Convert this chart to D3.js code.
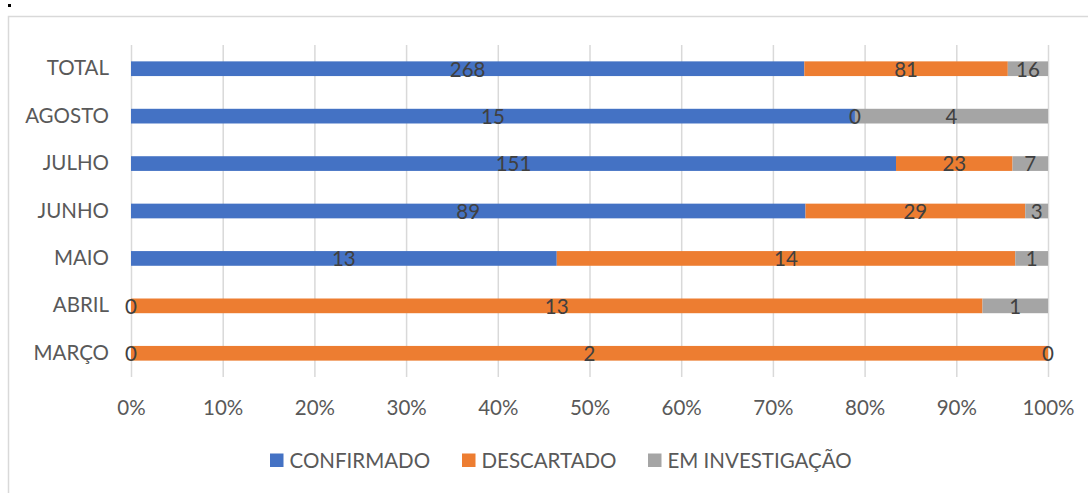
<!DOCTYPE html>
<html>
<head>
<meta charset="utf-8">
<script src="https://cdn.jsdelivr.net/npm/d3@7"></script>
<style>
  body { margin: 0; background: #fff; }
  svg { display: block; font-family: Lato, "Open Sans", sans-serif; }
</style>
</head>
<body>
<div id="chart"></div>
<script>
const categories = ["TOTAL", "AGOSTO", "JULHO", "JUNHO", "MAIO", "ABRIL", "MARÇO"];
const seriesNames = ["CONFIRMADO", "DESCARTADO", "EM INVESTIGAÇÃO"];
const confirmado = [268, 15, 151, 89, 13, 0, 0];
const descartado = [81, 0, 23, 29, 14, 13, 2];
const emInvestigacao = [16, 4, 7, 3, 1, 1, 0];
const tickValues = [0, 0.1, 0.2, 0.3, 0.4, 0.5, 0.6, 0.7, 0.8, 0.9, 1];
const colors = ["#4472C4", "#ED7D31", "#A5A5A5"];

const width = 1088, height = 493;
const plot = { left: 131, right: 1048, top: 45, bottom: 377 };
const fontSize = "20.5px";

const rows = categories.map((c, i) => {
    const vals = [confirmado[i], descartado[i], emInvestigacao[i]];
    const total = d3.sum(vals);
    let acc = 0;
    return {
        category: c,
        segments: vals.map((v, k) => {
            const s = { key: k, value: v, x0: acc / total, x1: (acc + v) / total };
            acc += v;
            return s;
        })
    };
});

const svg = d3.select("#chart").append("svg")
    .attr("width", width)
    .attr("height", height);

// chart frame
svg.append("rect")
    .attr("x", 8.5).attr("y", 16.5)
    .attr("width", 1100).attr("height", 500)
    .attr("fill", "none")
    .attr("stroke", "#d9d9d9")
    .attr("stroke-width", 1.5);

svg.append("rect")
    .attr("x", 8).attr("y", 4)
    .attr("width", 3).attr("height", 3)
    .attr("fill", "#000");

const x = d3.scaleLinear().domain([0, 1]).range([plot.left, plot.right]);
const y = d3.scaleBand().domain(categories).range([plot.top, plot.bottom]).paddingInner(0.69).paddingOuter(0.345);

// gridlines
svg.append("g")
    .selectAll("line")
    .data(tickValues)
    .join("line")
    .attr("x1", d => x(d) + 0.5).attr("x2", d => x(d) + 0.5)
    .attr("y1", plot.top).attr("y2", plot.bottom)
    .attr("stroke", "#d9d9d9")
    .attr("stroke-width", 1.5);

// x axis labels
const xAxis = d3.axisBottom(x)
    .tickValues(tickValues)
    .tickFormat(d3.format(".0%"))
    .tickSize(0)
    .tickPadding(0);

svg.append("g")
    .attr("transform", "translate(0," + 400 + ")")
    .call(xAxis)
    .call(g => g.select(".domain").remove())
    .selectAll("text")
    .attr("fill", "#595959")
    .style("font-size", fontSize)
    .style("font-family", "Lato, sans-serif");

// y axis labels
const yAxis = d3.axisLeft(y).tickSize(0).tickPadding(22);
svg.append("g")
    .attr("transform", "translate(" + plot.left + ",0)")
    .call(yAxis)
    .call(g => g.select(".domain").remove())
    .selectAll("text")
    .attr("fill", "#595959")
    .style("font-size", fontSize)
    .style("font-family", "Lato, sans-serif");

// bars
const rowG = svg.append("g")
    .selectAll("g")
    .data(rows)
    .join("g")
    .attr("transform", d => "translate(0," + y(d.category) + ")");

rowG.selectAll("rect")
    .data(d => d.segments)
    .join("rect")
    .attr("x", d => x(d.x0))
    .attr("width", d => x(d.x1) - x(d.x0))
    .attr("y", 0)
    .attr("height", y.bandwidth())
    .attr("fill", d => colors[d.key]);

rowG.selectAll("text")
    .data(d => d.segments)
    .join("text")
    .attr("x", d => (x(d.x0) + x(d.x1)) / 2)
    .attr("y", y.bandwidth() / 2 + 0.5)
    .attr("dy", "0.36em")
    .attr("text-anchor", "middle")
    .attr("fill", "#404040")
    .style("font-size", fontSize)
    .text(d => d.value);

// legend
const legendX = [270, 462, 648];
const legend = svg.append("g")
    .selectAll("g")
    .data(seriesNames)
    .join("g")
    .attr("transform", (d, i) => "translate(" + legendX[i] + "," + 453.5 + ")");

legend.append("rect")
    .attr("width", 13.5).attr("height", 13.5)
    .attr("fill", (d, i) => colors[i]);

legend.append("text")
    .attr("x", 19.5).attr("y", 7)
    .attr("dy", "0.36em")
    .attr("fill", "#595959")
    .style("font-size", fontSize)
    .text(d => d);
</script>
</body>
</html>
